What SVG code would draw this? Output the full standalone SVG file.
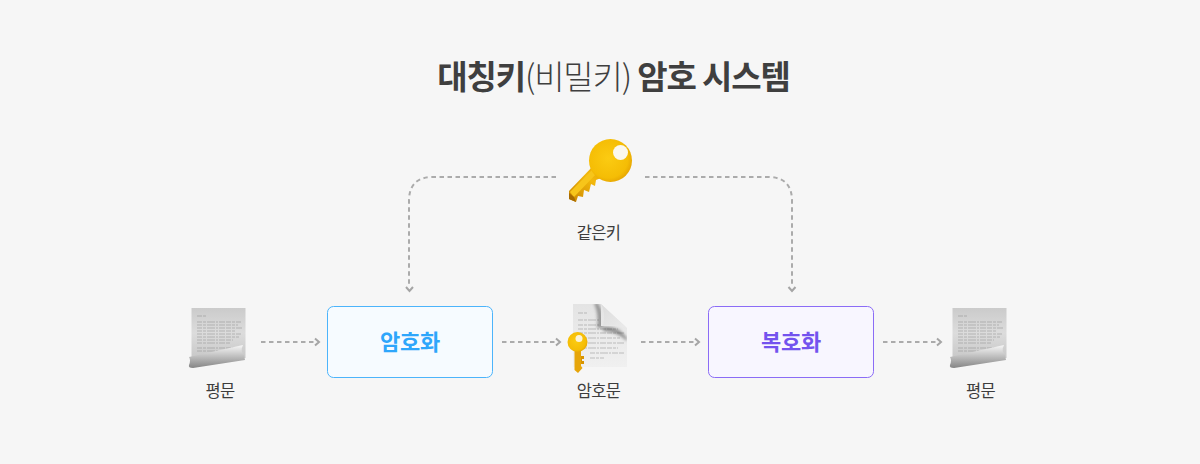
<svg xmlns="http://www.w3.org/2000/svg" width="1200" height="464" viewBox="0 0 1200 464">
<style>
text{font-family:"Noto Sans CJK KR","Noto Sans",sans-serif;text-anchor:middle}
.lbl{font-size:16.500px;fill:#3d3d3d;letter-spacing:-.7px}
.box{font-size:22px;font-weight:700;letter-spacing:-.3px}
.c{fill:none;stroke:#ababab;stroke-width:2;stroke-dasharray:4.500 3.500}
.ar{fill:none;stroke:#a5a5a5;stroke-width:2}
.tl{stroke:#8a8a8a;stroke-width:1;stroke-dasharray:5 1 3 1 8 1 2 1 6 1;opacity:.5;fill:none}
</style>
<defs>
<filter id="soft" x="-10%" y="-10%" width="120%" height="120%"><feGaussianBlur stdDeviation=".4"/></filter>
<filter id="soft2" x="-30%" y="-30%" width="160%" height="160%"><feGaussianBlur stdDeviation="1.500"/></filter>
<radialGradient id="gold" cx=".45" cy=".45" r=".65"><stop offset="0" stop-color="#fbcb12"/><stop offset=".7" stop-color="#f5bd05"/><stop offset="1" stop-color="#dd9700"/></radialGradient>
<linearGradient id="shaft" x1="0" y1="1" x2="1" y2="0"><stop offset="0" stop-color="#c98400"/><stop offset=".6" stop-color="#f2b80c"/><stop offset="1" stop-color="#e6a200"/></linearGradient>
<linearGradient id="paper" x1="0" y1="0" x2="0" y2="1"><stop offset="0" stop-color="#cbcbcb"/><stop offset=".5" stop-color="#dcdcdc"/><stop offset="1" stop-color="#c8c8c8"/></linearGradient>
<linearGradient id="curl" x1="0" y1="0" x2="0" y2="1"><stop offset="0" stop-color="#f7f7f7"/><stop offset=".45" stop-color="#c4c4c4"/><stop offset="1" stop-color="#858585"/></linearGradient>
<linearGradient id="fold" x1="0" y1="0" x2="1" y2="1"><stop offset="0" stop-color="#dcdcdc"/><stop offset="1" stop-color="#ebebeb"/></linearGradient>
<linearGradient id="doc" x1="0" y1="0" x2="0" y2="1"><stop offset="0" stop-color="#e4e4e4"/><stop offset="1" stop-color="#f0f0f0"/></linearGradient>
<clipPath id="docclip"><path d="M573 304H601V326H627V367H573Z"/></clipPath>
<g id="scroll">
<rect x="3.500" y="0" width="54" height="50" fill="url(#paper)"/>
<path d="M9 8h9M9 14h44M9 17h41M9 20h45M9 23h38M9 26h44M9 29h42M9 32h36M9 35h33M9 40h45M9 43h22" class="tl" filter="url(#soft)"/>
<path d="M1 57Q3 52 1 49L55 37Q52 43 56 47L57 52L5 60Q0 60 1 57Z" fill="url(#curl)"/>
</g>
</defs>
<rect width="1200" height="464" fill="#f6f6f6"/>
<g id="title"><text x="613.500" y="89" font-size="33" fill="#3f3f3f" font-weight="700" letter-spacing="-1.150">대칭키<tspan font-weight="300">(비밀키)</tspan> 암호 시스템</text></g>
<g id="connectors">
<path class="c" d="M556 177H433Q409 177 409 201V286"/>
<path class="ar" d="M406 287l3.500 4 3.500-4"/>
<path class="c" d="M645 177H768Q792 177 792 201V286"/>
<path class="ar" d="M788.500 287l3.500 4 3.500-4"/>
<path class="c" d="M261 342H314"/><path class="ar" d="M315 338.500l4 3.500-4 3.500"/>
<path class="c" d="M502 342H555"/><path class="ar" d="M556 338.500l4 3.500-4 3.500"/>
<path class="c" d="M641 342H694"/><path class="ar" d="M695 338.500l4 3.500-4 3.500"/>
<path class="c" d="M883 342H936"/><path class="ar" d="M937 338.500l4 3.500-4 3.500"/>
</g>
<g id="key">
<path d="M569 199V191L594 165L606 176L596 180L595 186L591 184L589 192L584 190L583 197L578 196L576 202Z" fill="url(#shaft)"/>
<path d="M570 192L596 166L600 170L574 197Z" fill="#f7c51a"/>
<path d="M569 199V193L574 197L576 202Z" fill="#a86b00"/>
<circle cx="610.500" cy="160.500" r="21.500" fill="url(#gold)"/>
<circle cx="620.500" cy="152.500" r="7.500" fill="#fbf8ee"/>
<text class="lbl" x="598.500" y="238.500">같은키</text>
</g>
<g id="plain1"><use href="#scroll" x="188" y="308"/><text class="lbl" x="220" y="396.500">평문</text></g>
<g id="encrypt"><rect x="327.500" y="306.500" width="165" height="71" rx="6" fill="#f6fbff" stroke="#4cb4fb"/><text class="box" x="410" y="349.500" fill="#2ea6fb">암호화</text></g>
<g id="cipher">
<path d="M573 304H601L627 328V367H573Z" fill="url(#doc)"/>
<path d="M578 313h10M578 320h22M578 325h22M578 329h40M578 333h46M578 338h42M578 343h46M578 348h40M590 353h34M590 358h14" class="tl" filter="url(#soft)"/>
<g clip-path="url(#docclip)">
<path d="M598 303Q605 314 603 328H597Q599 314 594 303Z" fill="#4a4a4a" opacity=".5" filter="url(#soft2)"/>
<path d="M603 327Q618 325 627 338V341Q616 331 603 331Z" fill="#4a4a4a" opacity=".55" filter="url(#soft2)"/>
</g>
<path d="M601 304L627 328Q616 323 603 326Q606 312 601 304Z" fill="url(#fold)"/>
<path d="M574.500 350H581V366L582.500 368L578 373L574.500 370Z" fill="#e6a50a"/>
<path d="M581 356h3v3h-2v2h2v3h-3z" fill="#d89400"/>
<circle cx="577.500" cy="342" r="10" fill="url(#gold)"/>
<circle cx="579" cy="338.500" r="3.500" fill="#fbf3d6"/>
<text class="lbl" x="598.500" y="396.500">암호문</text>
</g>
<g id="decrypt"><rect x="708.500" y="306.500" width="165" height="71" rx="6" fill="#f8f6ff" stroke="#8b6cf6"/><text class="box" x="791" y="349.500" fill="#7353ee">복호화</text></g>
<g id="plain2"><use href="#scroll" x="949" y="308"/><text class="lbl" x="980.500" y="396.500">평문</text></g>
</svg>
